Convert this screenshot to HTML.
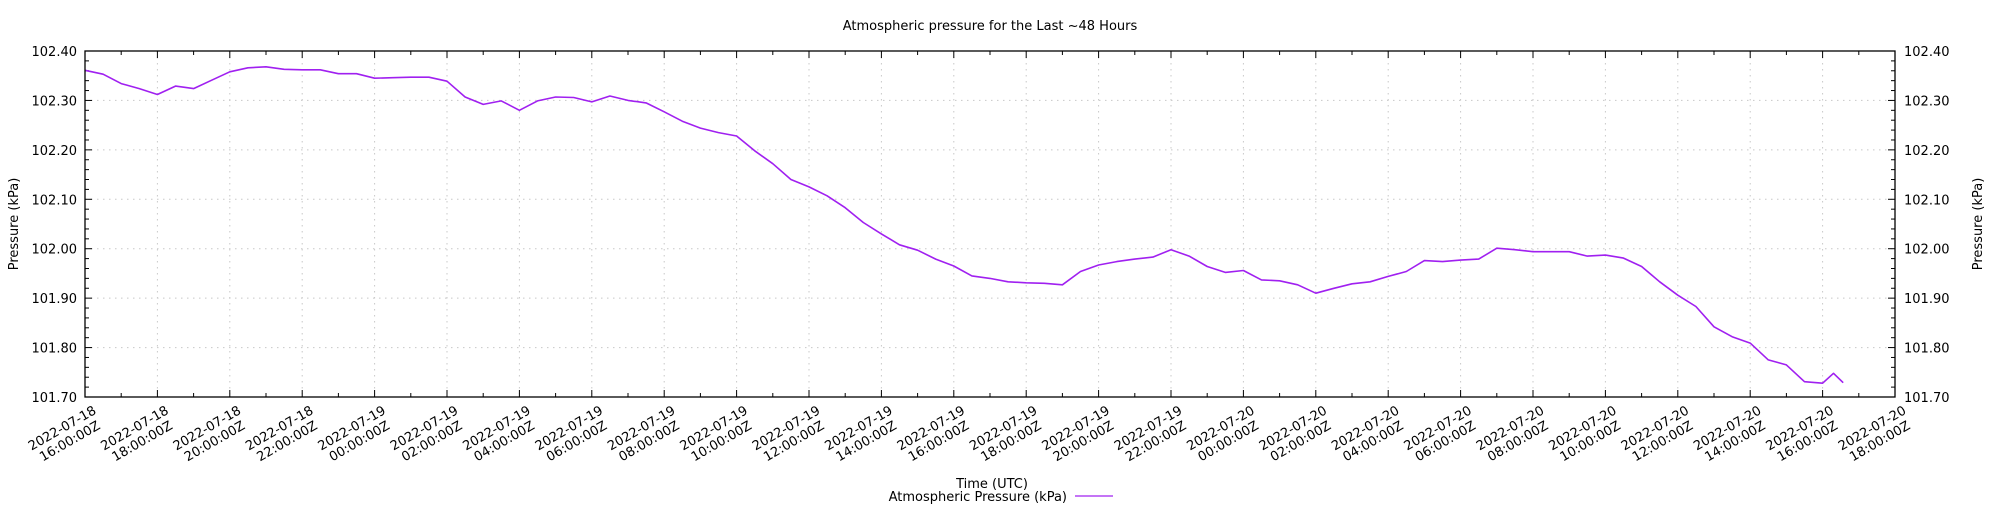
<!DOCTYPE html>
<html><head><meta charset="utf-8"><style>
html,body{margin:0;padding:0;background:#fff;}
svg{display:block;font-family:"DejaVu Sans","Liberation Sans",sans-serif;}
</style></head><body>
<svg id="chart" width="2000" height="512" viewBox="0 0 2000 512" xmlns="http://www.w3.org/2000/svg">
<rect x="0" y="0" width="2000" height="512" fill="#fff"/>
<text x="990" y="30" font-size="13" text-anchor="middle">Atmospheric pressure for the Last ~48 Hours</text>
<g id="grid"></g>
<g id="axes"></g>
<path id="series" fill="none" stroke="#a020f0" stroke-width="1.6" stroke-linejoin="round"/>
<rect x="85" y="51" width="1810" height="346" fill="none" stroke="#000" stroke-width="1.3"/>
<text transform="translate(18,224) rotate(-90)" font-size="13" text-anchor="middle">Pressure (kPa)</text>
<text transform="translate(1982,224) rotate(-90)" font-size="13" text-anchor="middle">Pressure (kPa)</text>
<text x="992" y="488" font-size="13" text-anchor="middle">Time (UTC)</text>
<g>
<text x="1067" y="501" font-size="13" text-anchor="end">Atmospheric Pressure (kPa)</text>
<line x1="1075" y1="496" x2="1113" y2="496" stroke="#a020f0" stroke-width="1.3"/>
</g>
</svg>
<script>
const hours = [0,0.5,1,1.5,2,2.5,3,3.5,4,4.5,5,5.5,6,6.5,7,7.5,8,8.5,9,9.5,10,10.5,11,11.5,12,12.5,13,13.5,14,14.5,15,15.5,16,16.5,17,17.5,18,18.5,19,19.5,20,20.5,21,21.5,22,22.5,23,23.5,24,24.5,25,25.5,26,26.5,27,27.5,28,28.5,29,29.5,30,30.5,31,31.5,32,32.5,33,33.5,34,34.5,35,35.5,36,36.5,37,37.5,38,38.5,39,39.5,40,40.5,41,41.5,42,42.5,43,43.5,44,44.5,45,45.5,46,46.5,47,47.5,48,48.3,48.57];
const pressure = [102.361,102.353,102.334,102.324,102.312,102.329,102.324,102.341,102.358,102.366,102.368,102.363,102.362,102.362,102.354,102.354,102.345,102.346,102.347,102.347,102.339,102.307,102.292,102.299,102.280,102.299,102.307,102.306,102.297,102.309,102.300,102.295,102.277,102.258,102.244,102.235,102.228,102.198,102.172,102.140,102.125,102.107,102.083,102.053,102.030,102.008,101.997,101.979,101.965,101.945,101.940,101.933,101.931,101.930,101.927,101.954,101.967,101.974,101.979,101.983,101.998,101.985,101.964,101.952,101.956,101.937,101.935,101.927,101.910,101.920,101.929,101.933,101.944,101.954,101.976,101.974,101.977,101.979,102.001,101.998,101.994,101.994,101.994,101.985,101.987,101.981,101.964,101.933,101.906,101.883,101.842,101.822,101.809,101.775,101.765,101.731,101.728,101.748,101.729];
const yTicks = ["101.70","101.80","101.90","102.00","102.10","102.20","102.30","102.40"];
const xDates = ["2022-07-18","2022-07-18","2022-07-18","2022-07-18","2022-07-19","2022-07-19","2022-07-19","2022-07-19","2022-07-19","2022-07-19","2022-07-19","2022-07-19","2022-07-19","2022-07-19","2022-07-19","2022-07-19","2022-07-20","2022-07-20","2022-07-20","2022-07-20","2022-07-20","2022-07-20","2022-07-20","2022-07-20","2022-07-20","2022-07-20"];
const xTimes = ["16:00:00Z","18:00:00Z","20:00:00Z","22:00:00Z","00:00:00Z","02:00:00Z","04:00:00Z","06:00:00Z","08:00:00Z","10:00:00Z","12:00:00Z","14:00:00Z","16:00:00Z","18:00:00Z","20:00:00Z","22:00:00Z","00:00:00Z","02:00:00Z","04:00:00Z","06:00:00Z","08:00:00Z","10:00:00Z","12:00:00Z","14:00:00Z","16:00:00Z","18:00:00Z"];

const L=85,R=1895,T=51,B=397,H0=0,H1=50,P0=101.7,P1=102.4;
const NS="http://www.w3.org/2000/svg";
function xs(h){return L+(h-H0)/(H1-H0)*(R-L);}
function ys(p){return B-(p-P0)/(P1-P0)*(B-T);}
function mk(tag,attrs,parent){const e=document.createElementNS(NS,tag);for(const k in attrs)e.setAttribute(k,attrs[k]);parent.appendChild(e);return e;}
const grid=document.getElementById('grid'), axes=document.getElementById('axes');

yTicks.forEach((t,i)=>{
  const y=ys(parseFloat(t));
  if(i>0&&i<yTicks.length-1){
    const g=mk('line',{x1:L,x2:R,y1:y,y2:y,stroke:'#c8c8c8','stroke-width':1,'stroke-dasharray':'1.5,4.5'},grid);
    
    
  }
  const a=mk('text',{x:77,y:y+5,'font-size':13,'text-anchor':'end'},axes);a.textContent=t;
  
  
  const b=mk('text',{x:1904,y:y+5,'font-size':13,'text-anchor':'start'},axes);b.textContent=t;
  
  
});
for(let k=0;k<=35;k++){
  const v=P0+k*0.02, y=ys(v), len=(k%5===0)?7:4;
  mk('line',{x1:L,x2:L+len,y1:y,y2:y,stroke:'#000','stroke-width':1},axes);
  mk('line',{x1:R-len,x2:R,y1:y,y2:y,stroke:'#000','stroke-width':1},axes);
}
for(let h=0;h<=50;h++){
  const x=xs(h), len=(h%2===0)?7:4;
  mk('line',{x1:x,x2:x,y1:B-len,y2:B,stroke:'#000','stroke-width':1},axes);
  mk('line',{x1:x,x2:x,y1:T,y2:T+len,stroke:'#000','stroke-width':1},axes);
}
xDates.forEach((d,i)=>{
  const x=xs(i*2);
  if(i>0&&i<xDates.length-1){
    const g=mk('line',{x1:x,x2:x,y1:T,y2:B,stroke:'#c8c8c8','stroke-width':1,'stroke-dasharray':'1.5,4.5'},grid);
    
    
  }
  const t=mk('text',{transform:`translate(${x+12},${B+16}) rotate(-30)`,'font-size':13,'text-anchor':'end'},axes);
  
  
  const s1=mk('tspan',{x:0,y:0},t);s1.textContent=d;
  const s2=mk('tspan',{x:-4,y:15},t);s2.textContent=xTimes[i];
});
let dStr='';
hours.forEach((h,i)=>{dStr+=(i?'L':'M')+xs(h).toFixed(1)+','+ys(pressure[i]).toFixed(1);});
document.getElementById('series').setAttribute('d',dStr);
</script>
</body></html>
